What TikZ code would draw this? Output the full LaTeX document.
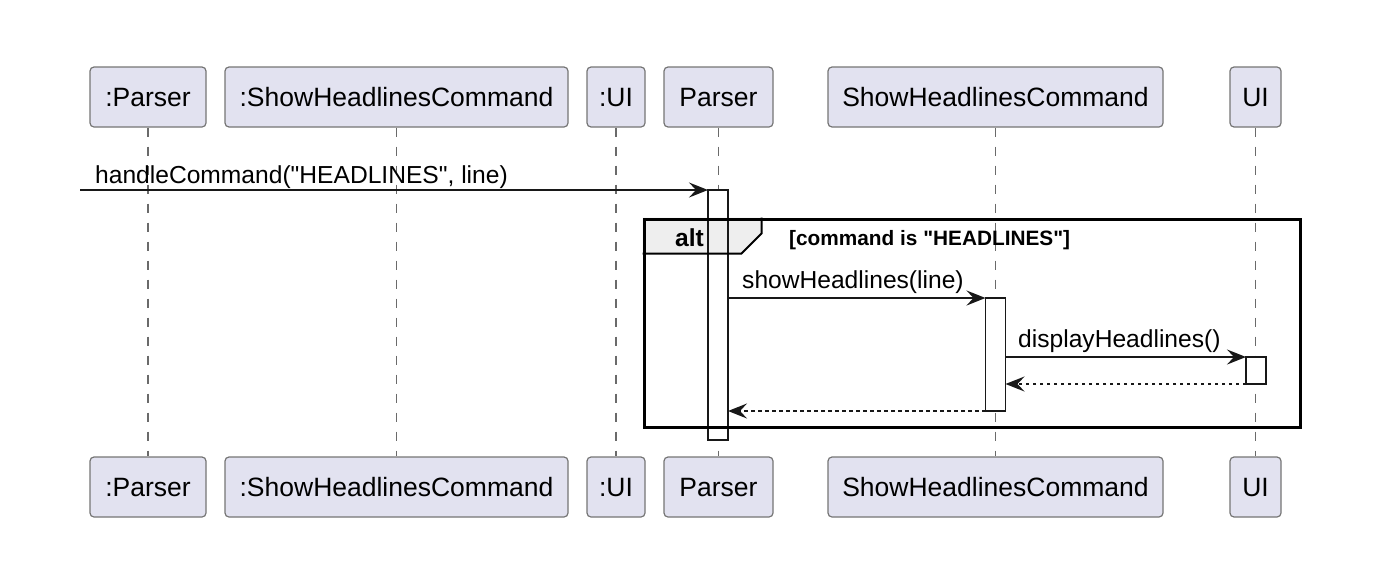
\documentclass[tikz,border=0pt]{standalone}
\usepackage{fontspec}
\setmainfont{Liberation Sans}[Ligatures=TeXOff]
\usetikzlibrary{arrows.meta}
\definecolor{partfill}{HTML}{E2E2F0}
\definecolor{partdraw}{HTML}{757575}
\definecolor{ink}{HTML}{181818}
\definecolor{lifec}{HTML}{6A6A6A}
\definecolor{tabfill}{HTML}{EEEEEE}
\begin{document}
\begin{tikzpicture}[x=1pt,y=-1pt,
  part/.style={draw=partdraw, line width=1.2pt, fill=partfill, rounded corners=4pt,
    minimum height=60pt, inner sep=0pt, text height=19pt, text depth=0pt,
    font=\fontsize{26.5}{30}\selectfont, text=black},
  life/.style={draw=lifec, line width=1.3pt, dash pattern=on 9.5pt off 9.5pt},
  actfill/.style={fill=white, minimum width=20pt, inner sep=0pt, outer sep=0pt},
  actline/.style={draw=ink, line width=1.6pt},
  msg/.style={draw=ink, line width=1.9pt, -{Stealth[length=19pt,width=15pt,inset=7pt]}},
  ret/.style={msg, dash pattern=on 3.5pt off 3.5pt},
  lbl/.style={font=\fontsize{24.6}{28}\selectfont, anchor=base west, inner sep=0pt, text=black},
  framebox/.style={draw=black, line width=3pt, minimum width=656pt, minimum height=208pt, inner sep=0pt},
]
\useasboundingbox (0,0) rectangle (1394,568);
% participants
\node[part, minimum width=116pt] (h1) at (148,97) {:Parser};
\node[part, minimum width=343pt] (h2) at (396.5,97) {:ShowHeadlinesCommand};
\node[part, minimum width=58pt] (h3) at (616,97) {:UI};
\node[part, minimum width=109pt] (h4) at (718.5,97) {Parser};
\node[part, minimum width=335pt] (h5) at (995.5,97) {ShowHeadlinesCommand};
\node[part, minimum width=51pt] (h6) at (1255.5,97) {UI};
\node[part, minimum width=116pt] (f1) at (148,487) {:Parser};
\node[part, minimum width=343pt] (f2) at (396.5,487) {:ShowHeadlinesCommand};
\node[part, minimum width=58pt] (f3) at (616,487) {:UI};
\node[part, minimum width=109pt] (f4) at (718.5,487) {Parser};
\node[part, minimum width=335pt] (f5) at (995.5,487) {ShowHeadlinesCommand};
\node[part, minimum width=51pt] (f6) at (1255.5,487) {UI};
% lifelines
\draw[life] (h1.south) -- (f1.north);
\draw[life] (h2.south) -- (f2.north);
\draw[life] (h3.south) -- (f3.north);
\draw[life] (h4.south) -- (f4.north);
\draw[life] (h5.south) -- (f5.north);
\draw[life] (h6.south) -- (f6.north);
% activation fills
\node[actfill, minimum height=250pt] (a1) at (718,315) {};
\node[actfill, minimum height=113pt] (a2) at (995.5,354.5) {};
\node[actfill, minimum height=27pt] (a3) at (1256,370.5) {};
% alt frame
\node[framebox] (alt) at (972,323) {};
\fill[tabfill] (alt.north west) -- ++(119,0) -- ++(0,16) -- ++(-20,20) -- ++(-99,0) -- cycle;
% activation outlines
\draw[actline] (a1.north west) rectangle (a1.south east);
\draw[actline] (a2.north west) rectangle (a2.south east);
\draw[actline] (a3.north west) rectangle (a3.south east);
% frame outlines
\draw[black, line width=2pt, line join=miter] (alt.north west) ++(119,0) -- ++(0,16) -- ++(-20,20) -- ++(-99,0);
\node[framebox] at (alt.center) {};
\node[anchor=base west, inner sep=0pt, font=\bfseries\fontsize{24.6}{28}\selectfont] (altlbl) at (675,246) {alt};
\node[anchor=base west, inner sep=0pt, font=\bfseries\fontsize{20.8}{24}\selectfont] (cond) at (789,245) {[command is "HEADLINES"]};
% messages
\coordinate (src) at (80,190);
\draw[msg] (src) -- (a1.north west);
\node[lbl] (m1) at (95,183) {handleCommand("HEADLINES", line)};
\draw[msg] (a1.east |- a2.north west) -- (a2.north west);
\node[lbl] (m2) at (742,288) {showHeadlines(line)};
\draw[msg] (a2.east |- a3.north west) -- (a3.north west);
\node[lbl] (m3) at (1018,347) {displayHeadlines()};
\draw[ret] (a3.south west) -- (a2.east |- a3.south west);
\draw[ret] (a2.south west) -- (a1.east |- a2.south west);
\end{tikzpicture}
\end{document}
